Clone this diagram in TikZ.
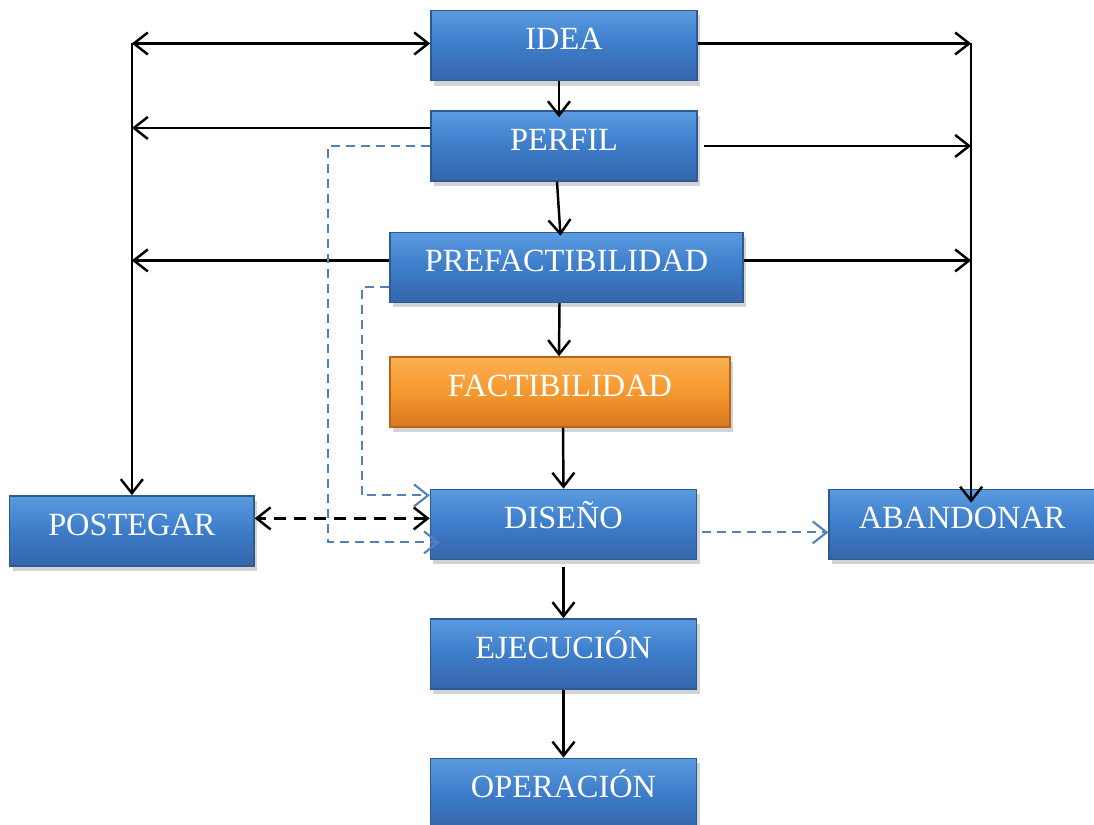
\documentclass[tikz,border=0pt]{standalone}
\usepackage{fontspec}
\setmainfont{Liberation Serif}
\usetikzlibrary{positioning,arrows.meta,shadows}

\definecolor{stageblue}{HTML}{3D7CC9}
\definecolor{stagetop}{HTML}{5A9BE0}
\definecolor{stagebottom}{HTML}{3566AA}
\definecolor{stageedge}{HTML}{2E5A92}
\definecolor{keyorange}{HTML}{F5992F}
\definecolor{keytop}{HTML}{FBB052}
\definecolor{keybottom}{HTML}{D9781F}
\definecolor{keyedge}{HTML}{B5651C}
\definecolor{linkblue}{HTML}{4F81BD}

\begin{document}
\begin{tikzpicture}[
    x=0.01cm, y=-0.01cm,
    stage/.style={rectangle, draw=stageedge, line width=0.4pt, top color=stagetop, bottom color=stagebottom, middle color=stageblue, minimum width=2.66cm, minimum height=0.7cm, inner sep=0pt, text=white, font=\fontsize{9.2}{11}\selectfont, text height=2.2mm, text depth=1.3mm, drop shadow={opacity=0.35, shadow xshift=0.3mm, shadow yshift=-0.5mm}},
    keystage/.style={stage, draw=keyedge, top color=keytop, bottom color=keybottom, middle color=keyorange},
    arrow/.style={line width=0.7pt, -{Straight Barb[length=1.4mm,width=2.2mm]}},
    dblarrow/.style={line width=0.7pt, {Straight Barb[length=1.4mm,width=2.2mm]}-{Straight Barb[length=1.4mm,width=2.2mm]}},
    dasharrow/.style={line width=0.6pt, draw=linkblue, dash pattern=on 0.9mm off 0.6mm, -{Straight Barb[length=1.4mm,width=2.2mm]}}
]
\useasboundingbox (0,0) rectangle (1094,825);

% Stages
\node[stage] (idea) at (564,45.5) {IDEA};
\node[stage, below=0.29cm of idea] (perfil) {PERFIL};
\node[stage, minimum width=3.53cm, below=0.50cm of perfil, xshift=0.025cm] (prefact) {PREFACTIBILIDAD};
\node[keystage, minimum width=3.4cm, below=0.53cm of prefact, xshift=-0.065cm] (fact) {FACTIBILIDAD};
\node[stage, below=0.61cm of fact, xshift=0.035cm] (diseno) {DISEÑO};
\node[stage, below=0.58cm of diseno] (ejecucion) {EJECUCIÓN};
\node[stage, below=0.68cm of ejecucion] (operacion) {OPERACIÓN};

% Side outcomes
\node[stage, right=1.31cm of diseno] (abandonar) {ABANDONAR};
\node[stage, minimum width=2.44cm, left=1.75cm of diseno, yshift=-0.065cm] (postegar) {POSTEGAR};

\coordinate (lcorner) at ([yshift=0.02cm]postegar.north |- idea.west);
\coordinate (rcorner) at ([xshift=0.09cm,yshift=0.02cm]abandonar.north |- idea.east);

% Main chain
\draw[arrow] ([xshift=-0.05cm]idea.south) -- ([xshift=-0.05cm,yshift=-0.07cm]perfil.north);
\draw[arrow] ([xshift=-0.07cm]perfil.south) -- ([xshift=-0.06cm,yshift=-0.04cm]prefact.north);
\draw[arrow] ([xshift=-0.07cm]prefact.south) -- ([xshift=-0.01cm]fact.north);
\draw[arrow] ([xshift=0.03cm]fact.south) -- (diseno.north);
\draw[arrow] ([yshift=-0.07cm]diseno.south) -- (ejecucion);
\draw[arrow] (ejecucion) -- (operacion);

% To POSTEGAR
\draw[dblarrow] (lcorner) -- (lcorner -| idea.west);
\draw[arrow] ([yshift=0.18cm]perfil.west) -- ([yshift=0.18cm]perfil.west -| lcorner);
\draw[arrow] ([yshift=0.07cm]prefact.west) -- ([yshift=0.07cm]prefact.west -| lcorner);
\draw[arrow] (lcorner) -- (postegar.north);
\draw[dblarrow, dash pattern=on 1.2mm off 0.8mm] ([yshift=0.06cm]diseno.west) -- ([yshift=0.06cm]diseno.west -| postegar.east);

% To ABANDONAR
\draw[arrow] (rcorner -| idea.east) -- (rcorner);
\draw[arrow] ([xshift=0.06cm]perfil.east) -- (perfil.east -| rcorner);
\draw[arrow] ([yshift=0.07cm]prefact.east) -- ([yshift=0.07cm]prefact.east -| rcorner);
\draw[arrow] (rcorner) -- ([yshift=-0.14cm]abandonar.north -| rcorner);

% Shortcuts
\draw[dasharrow] (perfil.west) -- ++(-102,0) |- ([xshift=0.1cm,yshift=-0.18cm]diseno.west);
\draw[dasharrow] ([yshift=-0.2cm]prefact.west) -- ++(-27,0) |- ([yshift=0.29cm]diseno.west);
\draw[dasharrow] ([xshift=0.05cm,yshift=-0.08cm]diseno.east) -- ([yshift=-0.08cm]abandonar.west);
\end{tikzpicture}
\end{document}
